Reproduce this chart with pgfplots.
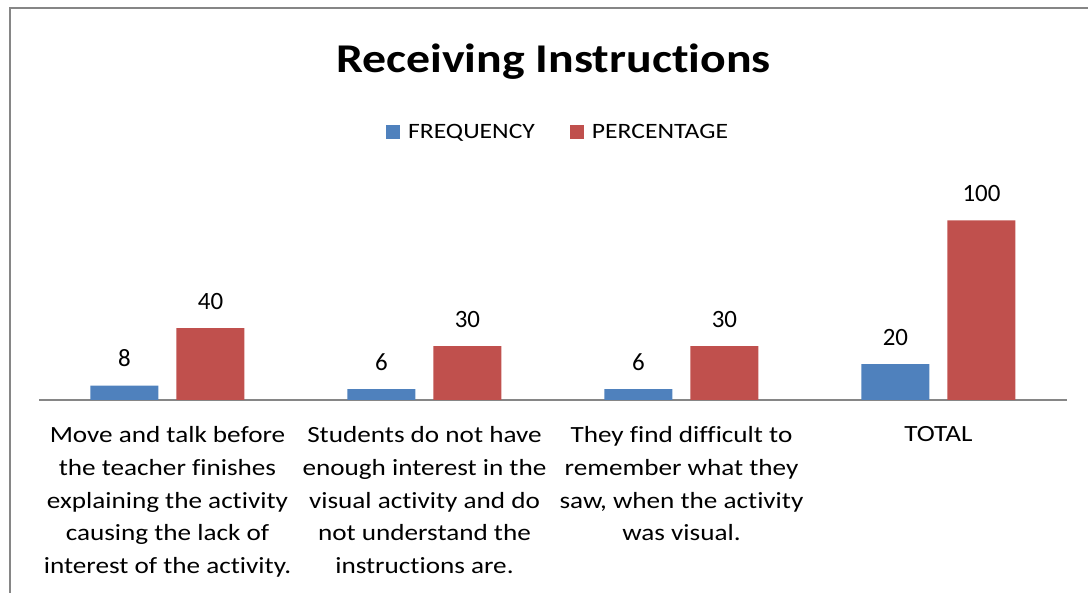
\documentclass[border=0pt]{standalone}
\usepackage{pgfplots}
\pgfplotsset{compat=1.18}
\usepackage{fontspec}
\setmainfont{Carlito}[FakeStretch=1.17, RawFeature={-liga;-clig;-dlig}]
\newfontfamily\plainfont{Carlito}
\definecolor{cblue}{HTML}{4F81BD}
\definecolor{cred}{HTML}{C0504D}
\definecolor{cgray}{HTML}{868686}
\begin{document}
\begin{tikzpicture}[x=1bp,y=1bp]
\useasboundingbox (0,0) rectangle (1088,593);
\draw[cgray, line width=1.5bp] (10,0) -- (10,585) -- (1088,585);
\node[anchor=base, inner sep=0pt, font=\bfseries\fontsize{41}{48}\selectfont] at (553.5,520) {Receiving Instructions};
\begin{axis}[
 at={(39bp,193bp)}, anchor=south west,
 scale only axis, width=1028bp, height=179.5bp,
 xmin=-0.5, xmax=3.5, ymin=0, ymax=100,
 clip=false,
 /pgf/number format/assume math mode=true,
 ybar=18bp, bar width=68bp,
 axis y line=none, axis x line*=bottom,
 x axis line style={cgray, line width=1.5bp, -},
 xtick={0,1,2,3}, major tick length=0pt,
 xticklabels={
  {Move and talk before\\the teacher finishes\\explaining the activity\\causing the lack of\\interest of the activity.},
  {Students do not have\\enough interest in the\\visual activity and do\\not understand the\\instructions are.},
  {They find difficult to\\remember what they\\saw, when the activity\\was visual.},
  {TOTAL}},
 xticklabel style={align=center, font=\fontsize{23.3}{33}\selectfont, anchor=north, inner sep=0pt, yshift=-26bp},
 nodes near coords,
 nodes near coords style={font=\plainfont\fontsize{25}{29}\selectfont, anchor=base, yshift=19bp, text=black, inner sep=0pt},
 legend columns=2,
 legend style={at={(0.504,1.493)}, anchor=center, draw=none, fill=none, inner sep=0pt,
   font=\fontsize{22}{26}\selectfont, column sep=8bp,
   nodes={inner sep=0pt},
   /tikz/every even column/.append style={column sep=35bp}},
 legend image code/.code={\fill[#1] (0bp,-7bp) rectangle (14bp,7bp);},
]
\addplot[fill=cblue, draw=none] coordinates {(0,8) (1,6) (2,6) (3,20)};
\addplot[fill=cred, draw=none] coordinates {(0,40) (1,30) (2,30) (3,100)};
\legend{FREQUENCY, PERCENTAGE}
\end{axis}
\end{tikzpicture}
\end{document}
